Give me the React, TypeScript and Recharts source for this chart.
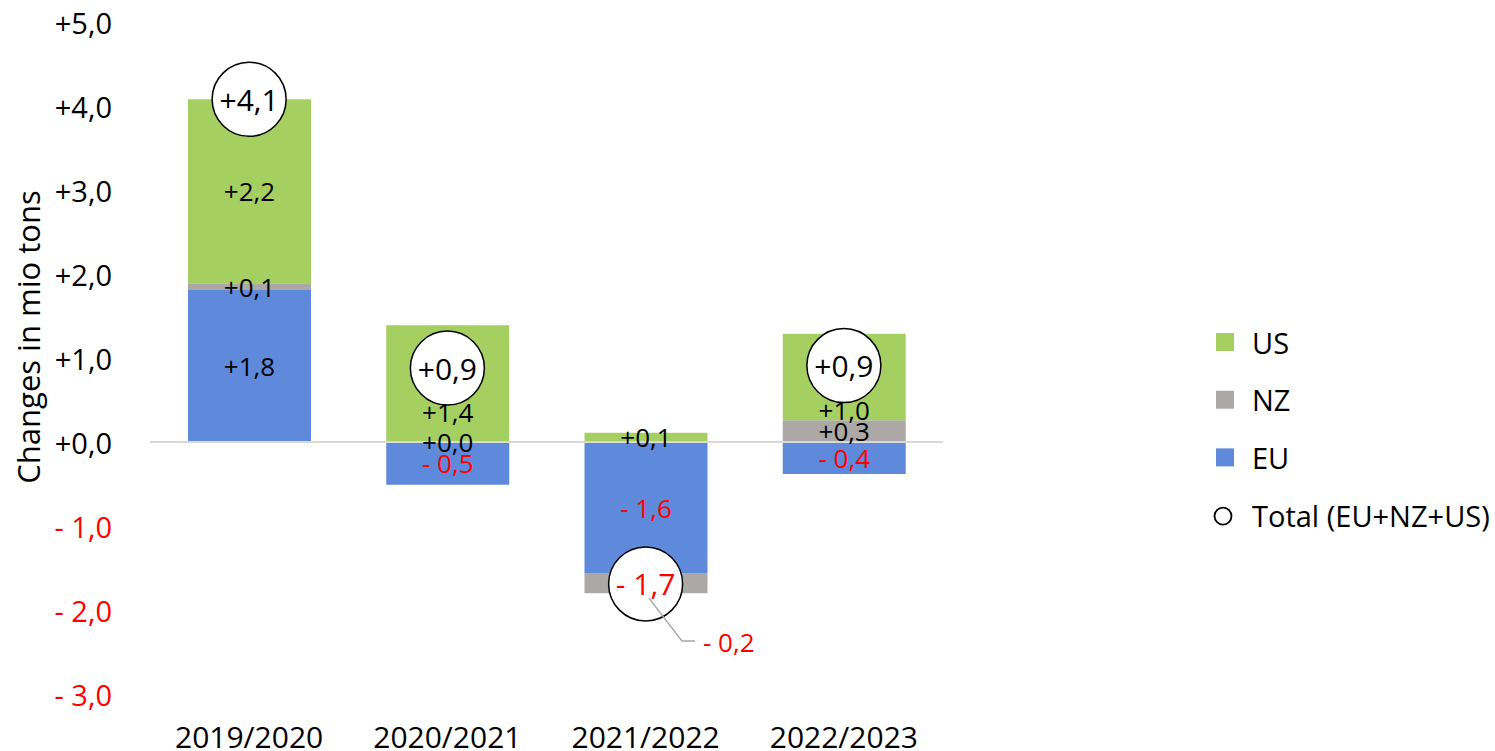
import React from "react";
import { ComposedChart, Bar, Line, XAxis, YAxis, ReferenceLine, LabelList, Legend } from "recharts";

// changes in mio tons per season
const categories = ["2019/2020", "2020/2021", "2021/2022", "2022/2023"];
const euChange = [1.81, -0.51, -1.56, -0.38];
const nzChange = [0.08, 0.0, -0.24, 0.26];
const usChange = [2.19, 1.39, 0.11, 1.03];
const yTicks = [-3, -2, -1, 0, 1, 2, 3, 4, 5];

const COLORS: Record<string, string> = { US: "#A5CF60", NZ: "#ABA8A6", EU: "#5F89DA" };
const RED = "#FF0000";
const FONT = "'Open Sans', sans-serif";
const CIRCLE_R = 37;
const STACK = ["EU", "NZ", "US"] as const;

const data = categories.map((cat, i) => ({
  cat,
  EU: euChange[i],
  NZ: nzChange[i],
  US: usChange[i],
  total: euChange[i] + nzChange[i] + usChange[i],
}));

const fmt = (v: number) => {
  const r = Math.round(Math.abs(v) * 10) / 10;
  const s = r.toFixed(1).replace(".", ",");
  return v < 0 && r > 0 ? "- " + s : "+" + s;
};
const tone = (v: number) => (v < 0 && Math.round(Math.abs(v) * 10) > 0 ? RED : "#000");

// label list carries the category name as its value so the row is found even if bars get skipped
const segmentLabel = (key: "EU" | "NZ" | "US") => (props: any) => {
  const vb = props.viewBox && props.viewBox.width != null ? props.viewBox : props;
  const { x, y, width: w, height: h } = vb;
  const row: any = data.find((d) => d.cat === props.value);
  if (!row || x == null) return null;
  const v: number = row[key];
  const cx = x + w / 2;
  let cy = y + h / 2;

  // value range of this segment inside the sign-stacked bar
  let base = 0;
  for (const k of STACK) {
    if (k === key) break;
    if ((row[k] >= 0) === (v >= 0)) base += row[k];
  }
  const lo = Math.min(base, base + v);
  const hi = Math.max(base, base + v);
  const holdsTotal = row.total >= lo && row.total <= hi && v !== 0;

  if (holdsTotal && key === "US") {
    // keep the label clear of the total circle
    const ppu = Math.abs(h) / Math.abs(v);
    const circleY = Math.min(y, y + h) + (hi - row.total) * ppu;
    cy = Math.max(cy, circleY + 44);
  }

  if (holdsTotal && key !== "US") {
    return (
      <g>
        <polyline
          points={`${cx + 3},${cy + 15} ${cx + 36},${cy + 58} ${cx + 49},${cy + 58}`}
          fill="none"
          stroke="#A6A6A6"
          strokeWidth={1.5}
        />
        <text x={cx + 57} y={cy + 59} dominantBaseline="central" fontSize={26} fontFamily={FONT} fill={tone(v)}>
          {fmt(v)}
        </text>
      </g>
    );
  }

  return (
    <text x={cx} y={cy} textAnchor="middle" dominantBaseline="central" fontSize={26} fontFamily={FONT} fill={tone(v)}>
      {fmt(v)}
    </text>
  );
};

const TotalDot = (props: any) => {
  const { cx, cy, payload, index } = props;
  if (cx == null || cy == null) return <g key={`t-${index}`} />;
  const v = payload.total;
  return (
    <g key={`t-${index}`}>
      <circle cx={cx} cy={cy} r={CIRCLE_R} fill="#fff" stroke="#000" strokeWidth={1.5} />
      <text x={cx} y={cy} textAnchor="middle" dominantBaseline="central" fontSize={30} fontFamily={FONT} fill={tone(v)}>
        {fmt(v)}
      </text>
    </g>
  );
};

const YTick = (props: any) => {
  const { x, y, payload } = props;
  const v = payload.value;
  return (
    <text x={x} y={y} textAnchor="end" dominantBaseline="central" fontSize={29} fontFamily={FONT} fill={tone(v)}>
      {fmt(v)}
    </text>
  );
};

const XTick = (props: any) => {
  const { x, y, payload } = props;
  return (
    <text x={x} y={y} textAnchor="middle" dominantBaseline="central" fontSize={30} fontFamily={FONT} fill="#000">
      {payload.value}
    </text>
  );
};

const YTitle = (props: any) => {
  const vb = props.viewBox || { x: 0, y: 22, width: 150, height: 672 };
  const x = vb.x + 28;
  const y = vb.y + vb.height / 2 - 21;
  return (
    <text x={x} y={y} transform={`rotate(-90 ${x} ${y})`} textAnchor="middle" dominantBaseline="central" fontSize={31} fontFamily={FONT} fill="#000">
      Changes in mio tons
    </text>
  );
};

const legendItems = [
  { name: "US", color: COLORS.US, ring: false },
  { name: "NZ", color: COLORS.NZ, ring: false },
  { name: "EU", color: COLORS.EU, ring: false },
  { name: "Total (EU+NZ+US)", color: "#000", ring: true },
];

const LegendBox = () => (
  <svg width={290} height={230}>
    {legendItems.map((it, i) => {
      const cy = 24 + i * 57.7;
      return (
        <g key={it.name}>
          {it.ring ? (
            <circle cx={15} cy={cy + 1} r={8.5} fill="#fff" stroke="#000" strokeWidth={1.8} />
          ) : (
            <rect x={8} y={cy - 9} width={18} height={18} fill={it.color} />
          )}
          <text x={44} y={cy} dominantBaseline="central" fontSize={29} fontFamily={FONT} fill="#000">
            {it.name}
          </text>
        </g>
      );
    })}
  </svg>
);

export default function App() {
  return (
    <div style={{ position: "relative", width: 1495, height: 751 }}>
      <style>{"body{margin:0}"}</style>
      <ComposedChart
        width={1495}
        height={751}
        data={data}
        stackOffset="sign"
        margin={{ top: 22, right: 552, bottom: 0, left: 0 }}
      >
        <XAxis
          dataKey="cat"
          axisLine={false}
          tickLine={false}
          tickSize={0}
          tickMargin={42}
          height={57}
          tick={<XTick />}
          interval={0}
        />
        <XAxis xAxisId="lbl" dataKey="cat" hide />
        <YAxis
          type="number"
          domain={[-3, 5]}
          ticks={yTicks}
          interval={0}
          width={150}
          axisLine={false}
          tickLine={false}
          tickSize={0}
          tickMargin={38}
          tick={<YTick />}
          label={YTitle}
        />
        <Bar dataKey="EU" stackId="s" fill={COLORS.EU} barSize={123} isAnimationActive={false} />
        <Bar dataKey="NZ" stackId="s" fill={COLORS.NZ} barSize={123} isAnimationActive={false} />
        <Bar dataKey="US" stackId="s" fill={COLORS.US} barSize={123} isAnimationActive={false} />
        <ReferenceLine y={0} stroke="#D9D9D9" strokeWidth={2} />
        <Line
          dataKey="total"
          stroke="none"
          dot={TotalDot}
          activeDot={false}
          legendType="none"
          isAnimationActive={false}
        />
        {STACK.map((k) => (
          <Bar
            key={k}
            xAxisId="lbl"
            dataKey={k}
            stackId="lbl"
            fill="transparent"
            barSize={123}
            minPointSize={1}
            legendType="none"
            isAnimationActive={false}
          >
            <LabelList dataKey="cat" content={segmentLabel(k)} />
          </Bar>
        ))}
        <Legend
          layout="horizontal"
          verticalAlign="middle"
          align="center"
          content={LegendBox}
          wrapperStyle={{ left: 1208, top: 318, width: 290, height: 230 }}
        />
      </ComposedChart>
    </div>
  );
}
